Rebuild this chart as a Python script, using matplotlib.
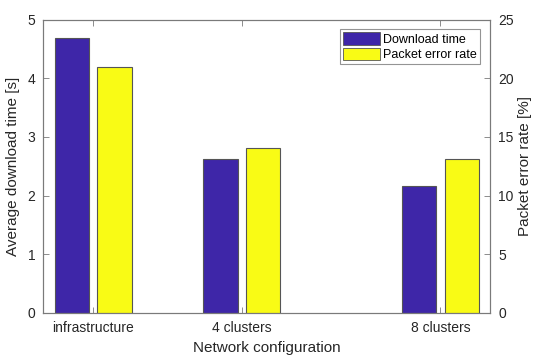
import matplotlib
matplotlib.use('Agg')
import matplotlib.pyplot as plt
from matplotlib.patches import Patch

plt.rcParams['font.family'] = ['Liberation Sans', 'DejaVu Sans']

# x positions follow the cluster count (infrastructure placed at 1)
positions = [1, 4, 8]
configs = ['infrastructure', '4 clusters', '8 clusters']
download_time = [4.69, 2.62, 2.16]      # s
packet_error = [21.0, 14.1, 13.1]       # %

blue = '#3E26A8'
yellow = '#F9FB15'
edge = '#555555'
axis_col = '#262626'

fig = plt.figure(figsize=(5.33, 3.56), dpi=100)
ax = fig.add_axes([0.0816, 0.1208, 0.8377, 0.8242])
ax2 = ax.twinx()

offset = 0.43
width = 0.69
ax.bar([p - offset for p in positions], download_time, width=width,
       color=blue, edgecolor=edge, linewidth=0.8)
ax2.bar([p + offset for p in positions], packet_error, width=width,
        color=yellow, edgecolor=edge, linewidth=0.8)

ax.set_xlim(0, 9)
ax.set_ylim(0, 5)
ax2.set_ylim(0, 25)
ax.set_xticks(positions)
ax.set_xticklabels(configs)
ax.set_yticks(range(0, 6))
ax2.set_yticks(range(0, 26, 5))

for a in (ax, ax2):
    for s in a.spines.values():
        s.set_color('#7a7a7a')
        s.set_linewidth(0.8)
ax.tick_params(axis='x', direction='in', top=True, length=4, width=0.6,
               color='#7a7a7a', labelsize=10, labelcolor=axis_col, pad=6)
ax.tick_params(axis='y', direction='in', length=4, width=0.6,
               color='#7a7a7a', labelsize=10, labelcolor=axis_col, pad=6)
ax2.tick_params(axis='y', direction='in', length=4, width=0.6,
                color='#7a7a7a', labelsize=10, labelcolor=axis_col, pad=6)

ax.set_ylabel('Average download time [s]', fontsize=11, color=axis_col)
ax.yaxis.set_label_coords(-0.053, 0.5)
ax2.set_ylabel('Packet error rate [%]', fontsize=11, color=axis_col)
ax2.yaxis.set_label_coords(1.062, 0.5)
ax.set_xlabel('Network configuration', fontsize=11, color=axis_col, labelpad=4)

handles = [Patch(facecolor=blue, edgecolor=edge, linewidth=0.6),
           Patch(facecolor=yellow, edgecolor=edge, linewidth=0.6)]
leg = ax2.legend(handles, ['Download time', 'Packet error rate'],
                 loc='upper right', bbox_to_anchor=(0.977, 0.967),
                 fontsize=9, frameon=True, fancybox=False,
                 handlelength=3.0, handleheight=1.2, handletextpad=0.2,
                 borderpad=0.25, labelspacing=0.12, borderaxespad=0)
leg.get_frame().set_edgecolor('#7a7a7a')
leg.get_frame().set_linewidth(0.8)

fig.savefig('out.png', dpi=100)
